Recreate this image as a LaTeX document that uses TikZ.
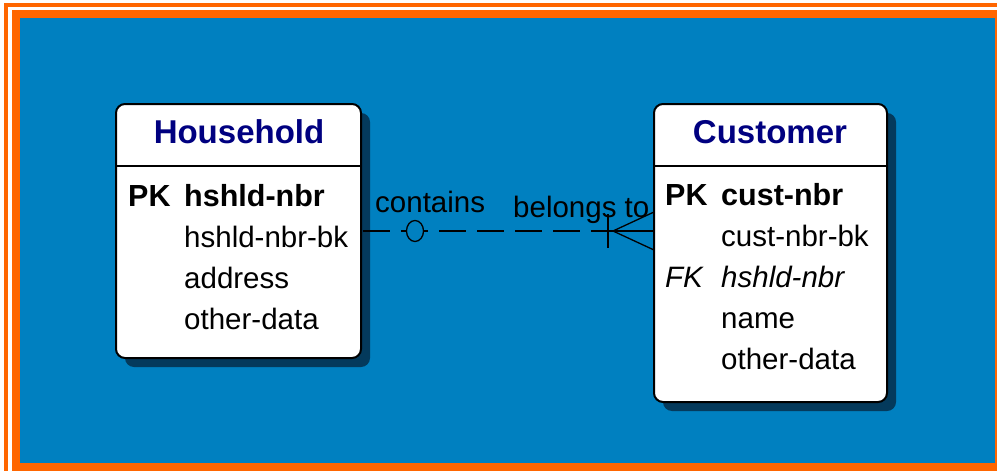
\documentclass[tikz,border=0pt]{standalone}
\usepackage{fontspec}
\setmainfont{Liberation Sans}
\usetikzlibrary{shadows}
\definecolor{bgblue}{RGB}{0,128,192}
\definecolor{frameorange}{RGB}{255,102,0}
\definecolor{shadowblue}{RGB}{4,58,92}
\definecolor{titleblue}{RGB}{0,0,128}
\tikzset{
  entity/.style={draw=black, line width=2pt, fill=white, rounded corners=9pt,
    inner sep=0pt, outer sep=0pt,
    drop shadow={shadow xshift=9pt, shadow yshift=-9pt, fill=shadowblue, opacity=1}},
  sepline/.style={draw=black, line width=2pt},
  ttl/.style={anchor=base, inner sep=0pt, text=titleblue,
    font=\fontsize{33}{38}\selectfont\bfseries},
  fld/.style={anchor=base west, inner sep=0pt, text=black,
    font=\fontsize{29.5}{35}\selectfont},
  fldb/.style={fld, font=\fontsize{30.5}{35}\selectfont\bfseries},
  fldi/.style={fld, font=\fontsize{29.5}{35}\selectfont\itshape},
  rlabel/.style={anchor=base west, inner sep=0pt, text=black,
    font=\fontsize{29.5}{35}\selectfont},
  relline/.style={draw=black, line width=1.5pt, dash pattern=on 27pt off 11pt, dash phase=-2pt},
  notation/.style={draw=black, line width=1.3pt},
}
\begin{document}
\begin{tikzpicture}[x=1pt, y=-1pt]
  \useasboundingbox (0,0) rectangle (997,471);
  % frame
  \fill[white] (0,0) rectangle (997,471);
  \fill[frameorange] (4,3) rectangle (997,471);
  \fill[white] (8,7) rectangle (997,471);
  \fill[frameorange] (12,10) rectangle (997,471);
  \fill[bgblue] (20,18) rectangle (995,463);

  % entities
  \node[entity, minimum width=245pt, minimum height=254pt] (hh) at (238.5,231) {};
  \node[entity, minimum width=233pt, minimum height=298pt] (cu) at (770.5,253) {};
  \draw[sepline] ([yshift=-62pt]hh.north west) -- ([yshift=-62pt]hh.north east);
  \draw[sepline] ([yshift=-62pt]cu.north west) -- ([yshift=-62pt]cu.north east);

  % Household text
  \node[ttl] (hhT) at (239,143) {Household};
  \node[fldb] (hhPK) at (128,206) {PK};
  \node[fldb] (hh1) at (184,206) {hshld-nbr};
  \node[fld] (hh2) at (184,247) {hshld-nbr-bk};
  \node[fld] (hh3) at (184,288) {address};
  \node[fld] (hh4) at (184,329) {other-data};

  % Customer text
  \node[ttl] (cuT) at (770,143) {Customer};
  \node[fldb] (cuPK) at (665,205) {PK};
  \node[fldb] (cu1) at (721,205) {cust-nbr};
  \node[fld] (cu2) at (721,246) {cust-nbr-bk};
  \node[fldi] (cuFK) at (665,287) {FK};
  \node[fldi] (cu3) at (721,287) {hshld-nbr};
  \node[fld] (cu4) at (721,328) {name};
  \node[fld] (cu5) at (721,369) {other-data};

  % relationship
  \coordinate (cuin) at (cu.west |- hh.east);
  \draw[relline] (hh.east) -- (cuin);
  \coordinate (zero) at ([xshift=54pt]hh.east);
  \draw[notation, fill=bgblue] (zero) ellipse [x radius=8.5pt, y radius=10.5pt];
  \coordinate (bar) at ([xshift=-46pt]cuin);
  \draw[notation] ([yshift=17pt]bar) -- ([yshift=-17pt]bar);
  \coordinate (foot) at ([xshift=-41pt]cuin);
  \draw[notation] ([yshift=19pt]cuin) -- (foot) -- ([yshift=-19pt]cuin);
  \draw[notation] (foot) -- (cuin);
  \node[rlabel] (lblc) at (375,212) {contains};
  \node[rlabel] (lblb) at (513,217) {belongs to};
\end{tikzpicture}
\end{document}
